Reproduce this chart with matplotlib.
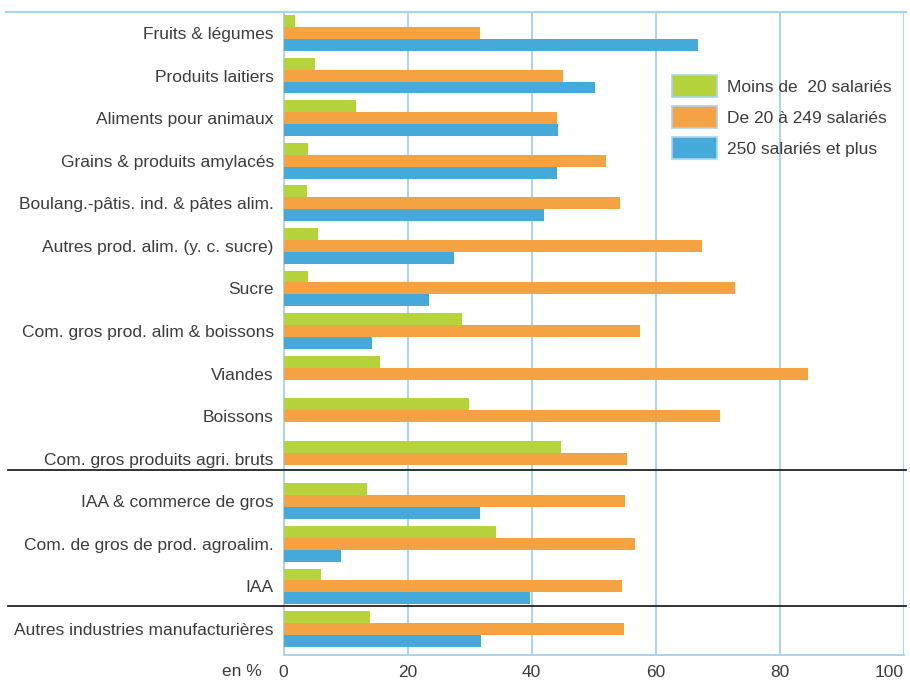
import numpy as np
import matplotlib
matplotlib.use("Agg")
import matplotlib.pyplot as plt
from matplotlib.lines import Line2D

plt.rcParams['font.family'] = ['Liberation Sans Narrow', 'Liberation Sans', 'DejaVu Sans']

categories = [
    "Fruits & légumes",
    "Produits laitiers",
    "Aliments pour animaux",
    "Grains & produits amylacés",
    "Boulang.-pâtis. ind. & pâtes alim.",
    "Autres prod. alim. (y. c. sucre)",
    "Sucre",
    "Com. gros prod. alim & boissons",
    "Viandes",
    "Boissons",
    "Com. gros produits agri. bruts",
    "IAA & commerce de gros",
    "Com. de gros de prod. agroalim.",
    "IAA",
    "Autres industries manufacturières",
]
small = [1.8, 5.1, 11.7, 4.0, 3.8, 5.6, 4.0, 28.7, 15.6, 29.9, 44.8, 13.5, 34.3, 6.1, 14.0]
medium = [31.7, 45.0, 44.1, 52.0, 54.3, 67.4, 72.7, 57.4, 84.6, 70.3, 55.4, 55.1, 56.7, 54.5, 54.8]
large = [66.8, 50.2, 44.3, 44.1, 42.0, 27.4, 23.5, 14.3, 0, 0, 0, 31.7, 9.3, 39.8, 31.9]
series_names = ["Moins de  20 salariés", "De 20 à 249 salariés", "250 salariés et plus"]
xticks = [0, 20, 40, 60, 80, 100]

green = "#b5d33d"
orange = "#f4a242"
blue = "#45a9da"
gridblue = "#a9d4ef"
textcol = "#3c3c3c"
fs = 12.5

W, H = 910, 684
left_px, right_px, top_px, bottom_px = 283.5, 904, 12, 655

fig = plt.figure(figsize=(W / 100, H / 100), dpi=100)
ax = fig.add_axes([left_px / W, 1 - bottom_px / H,
                   (right_px - left_px) / W, (bottom_px - top_px) / H])

y = np.arange(len(categories))
h = 0.28
ax.barh(y - h, small, height=h, color=green, label=series_names[0], zorder=3)
ax.barh(y, medium, height=h, color=orange, label=series_names[1], zorder=3)
ax.barh(y + h, large, height=h, color=blue, label=series_names[2], zorder=3)

step = 42.57
ax.set_xlim(0, 100)
ax.set_ylim(14 + (bottom_px - 629) / step, -(33 - top_px) / step)
ax.set_xticks(xticks)
ax.set_xticklabels([str(t) for t in xticks])
ax.get_xticklabels()[-1].set_ha('right')
ax.set_yticks(y)
ax.set_yticklabels(categories)
ax.tick_params(axis='both', length=0, labelsize=fs, colors=textcol)
ax.tick_params(axis='y', pad=7)
ax.tick_params(axis='x', pad=7)

for t in xticks[1:]:
    ax.axvline(t, color=gridblue, lw=1.4, zorder=1)
for s in ['top', 'right']:
    ax.spines[s].set_visible(False)
for s in ['left', 'bottom']:
    ax.spines[s].set_color(gridblue)
    ax.spines[s].set_linewidth(1.4)

# separator lines between groups, running under the labels too
xspan = right_px - left_px
for ysep in [10.27, 13.46]:
    ax.axhline(ysep, xmin=(8 - left_px) / xspan, xmax=(906 - left_px) / xspan,
               color="#222222", lw=1.3, clip_on=False, zorder=4)

# light blue frame line on top
fig.add_artist(Line2D([6 / W, 906 / W], [1 - top_px / H, 1 - top_px / H],
                      color=gridblue, lw=1.6))

fig.text(262 / W, 1 - 671 / H, "en %", ha='right', va='center',
         fontsize=fs, color=textcol)

leg = ax.legend(loc='upper left', bbox_to_anchor=(672 / W, 1 - 75 / H),
                bbox_transform=fig.transFigure, frameon=False, fontsize=fs,
                handlelength=2.6, handleheight=1.57, handletextpad=0.55,
                labelspacing=0.53, borderpad=0, borderaxespad=0)
for txt in leg.get_texts():
    txt.set_color(textcol)
for p in leg.get_patches():
    p.set_edgecolor(gridblue)
    p.set_linewidth(1.2)

fig.savefig("out.png", dpi=100)
